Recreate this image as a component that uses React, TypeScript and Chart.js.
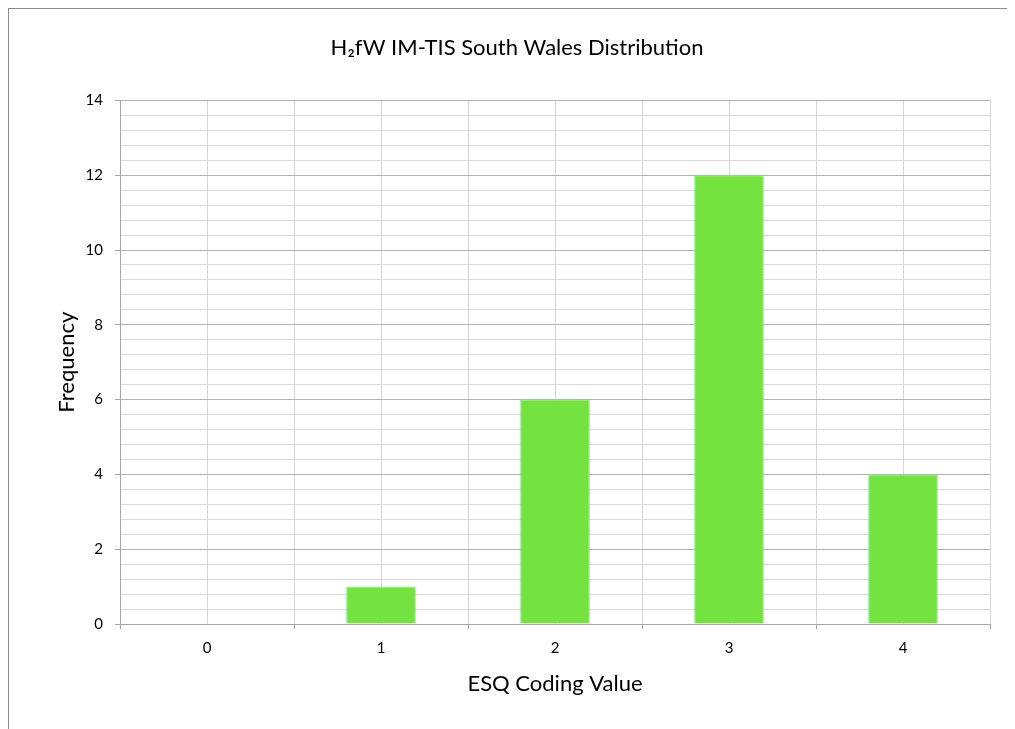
import React, { useEffect, useRef } from 'react';
import { Chart, registerables } from 'chart.js';

Chart.register(...registerables);

const categories = [0, 1, 2, 3, 4];
const frequencies = [0, 1, 6, 12, 4];
const yMajorTicks = [0, 2, 4, 6, 8, 10, 12, 14];
const chartTitle = 'H\u2082fW IM-TIS South Wales Distribution';
const xAxisTitle = 'ESQ Coding Value';
const yAxisTitle = 'Frequency';

const FONT = 'Lato, "Open Sans", sans-serif';

const isMajorY = (v: number) => yMajorTicks.some((t) => Math.abs(t - v) < 1e-6);
const isIntX = (v: number) => Math.abs(v - Math.round(v)) < 1e-6;

export default function App() {
  const canvasRef = useRef<HTMLCanvasElement | null>(null);

  useEffect(() => {
    document.documentElement.style.overflow = 'hidden';
    document.body.style.overflow = 'hidden';
    const canvas = canvasRef.current;
    if (!canvas) return;
    const chart = new Chart(canvas, {
      type: 'bar',
      data: {
        datasets: [
          {
            label: yAxisTitle,
            data: categories.map((c, i) => ({ x: c, y: frequencies[i] })),
            backgroundColor: '#74e23f',
            borderColor: '#80ea84',
            borderWidth: 1,
            borderSkipped: 'bottom',
            barPercentage: 0.8,
            categoryPercentage: 1,
          },
        ],
      },
      options: {
        animation: false,
        responsive: true,
        maintainAspectRatio: false,
        layout: { padding: { left: 35, right: 25, top: 0, bottom: 0 } },
        plugins: {
          legend: { display: false },
          tooltip: { enabled: false },
          title: {
            display: true,
            text: chartTitle,
            color: '#000',
            font: { family: FONT, size: 22, weight: 'normal' },
            padding: { top: 26, bottom: 39 },
          },
        },
        scales: {
          x: {
            type: 'linear',
            min: -0.5,
            max: 4.5,
            offset: false,
            afterFit: (s: any) => {
              s.height = 105;
            },
            grid: {
              offset: false,
              color: '#d6d6d6',
              lineWidth: 1,
              tickLength: 5,
              tickColor: (c: any) => (isIntX(c.tick.value) ? 'rgba(0,0,0,0)' : '#a6a6a6'),
            },
            border: { display: true, color: '#a6a6a6', width: 1 },
            ticks: {
              stepSize: 0.5,
              autoSkip: false,
              maxRotation: 0,
              minRotation: 0,
              padding: 10,
              color: '#000',
              font: { family: FONT, size: 15 },
              callback: (v: any) => (isIntX(Number(v)) ? String(Math.round(Number(v))) : ''),
            },
            title: {
              display: true,
              text: xAxisTitle,
              color: '#000',
              font: { family: FONT, size: 22 },
              padding: { top: 0, bottom: 32 },
            },
          },
          y: {
            type: 'linear',
            min: 0,
            max: 14,
            afterFit: (s: any) => {
              s.width = 76;
            },
            grid: {
              color: (c: any) => (isMajorY(c.tick.value) ? '#b2b2b2' : '#d9d9d9'),
              lineWidth: 1,
              tickLength: 5,
              tickColor: (c: any) => (isMajorY(c.tick.value) ? '#a6a6a6' : 'rgba(0,0,0,0)'),
            },
            border: { display: true, color: '#a6a6a6', width: 1 },
            ticks: {
              stepSize: 0.4,
              autoSkip: false,
              padding: 12,
              color: '#000',
              font: { family: FONT, size: 15 },
              callback: (v: any) => (isMajorY(Number(v)) ? String(Math.round(Number(v))) : ''),
            },
            title: {
              display: true,
              text: yAxisTitle,
              color: '#000',
              font: { family: FONT, size: 22 },
              padding: { top: 10, bottom: 0 },
            },
          },
        },
      },
    } as any);
    return () => chart.destroy();
  }, []);

  return (
    <div
      style={{
        position: 'relative',
        width: 1006,
        height: 720,
        border: '1px solid #8c8c8c',
        background: '#fff',
      }}
    >
      <canvas ref={canvasRef} />
    </div>
  );
}
